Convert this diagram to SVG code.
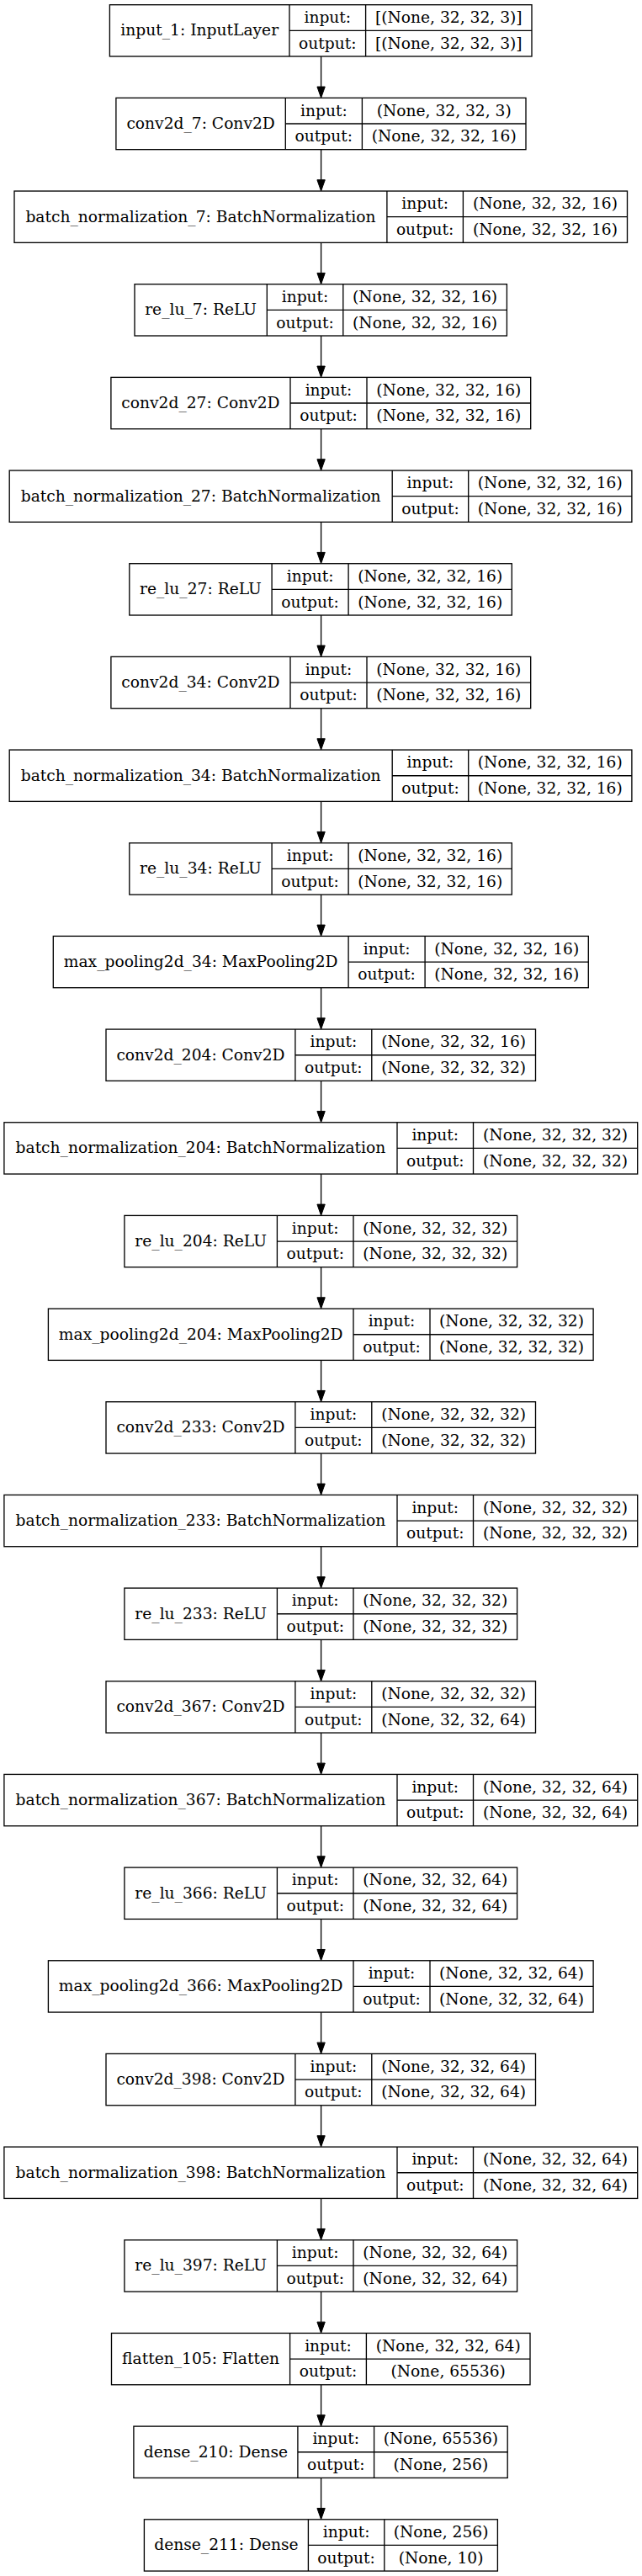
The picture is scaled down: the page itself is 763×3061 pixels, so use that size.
<svg xmlns="http://www.w3.org/2000/svg" width="763" height="3061" viewBox="0 0 763 3061">
<style>
.n rect{fill:#fff;stroke:#000;stroke-width:1.33}
.n path{fill:none;stroke:#000;stroke-width:1.33}
.n text{font-family:"DejaVu Serif","Liberation Serif",serif;font-size:18.67px;fill:#000;text-anchor:middle}
#edges path{fill:none;stroke:#000;stroke-width:1.33}
</style>
<defs>
<marker id="ah" markerUnits="userSpaceOnUse" markerWidth="14" markerHeight="10" refX="0" refY="4.67" orient="auto" viewBox="0 0 14 10" overflow="visible">
<path d="M0,0 L13.3,4.67 L0,9.34 Z" fill="#000" stroke="#000" stroke-width="1"/>
</marker>
</defs>
<rect x="0" y="0" width="763" height="3061" fill="#fff"/>
<g id="edges">
<path d="M381.6,67 V103.07" marker-end="url(#ah)"/>
<path d="M381.6,177.67 V213.74" marker-end="url(#ah)"/>
<path d="M381.6,288.34 V324.41" marker-end="url(#ah)"/>
<path d="M381.6,399.01 V435.08" marker-end="url(#ah)"/>
<path d="M381.6,509.68 V545.75" marker-end="url(#ah)"/>
<path d="M381.6,620.35 V656.42" marker-end="url(#ah)"/>
<path d="M381.6,731.02 V767.09" marker-end="url(#ah)"/>
<path d="M381.6,841.69 V877.76" marker-end="url(#ah)"/>
<path d="M381.6,952.36 V988.43" marker-end="url(#ah)"/>
<path d="M381.6,1063.03 V1099.1" marker-end="url(#ah)"/>
<path d="M381.6,1173.7 V1209.77" marker-end="url(#ah)"/>
<path d="M381.6,1284.37 V1320.44" marker-end="url(#ah)"/>
<path d="M381.6,1395.04 V1431.11" marker-end="url(#ah)"/>
<path d="M381.6,1505.71 V1541.78" marker-end="url(#ah)"/>
<path d="M381.6,1616.38 V1652.45" marker-end="url(#ah)"/>
<path d="M381.6,1727.05 V1763.12" marker-end="url(#ah)"/>
<path d="M381.6,1837.72 V1873.79" marker-end="url(#ah)"/>
<path d="M381.6,1948.39 V1984.46" marker-end="url(#ah)"/>
<path d="M381.6,2059.06 V2095.13" marker-end="url(#ah)"/>
<path d="M381.6,2169.73 V2205.8" marker-end="url(#ah)"/>
<path d="M381.6,2280.4 V2316.47" marker-end="url(#ah)"/>
<path d="M381.6,2391.07 V2427.14" marker-end="url(#ah)"/>
<path d="M381.6,2501.74 V2537.81" marker-end="url(#ah)"/>
<path d="M381.6,2612.41 V2648.48" marker-end="url(#ah)"/>
<path d="M381.6,2723.08 V2759.15" marker-end="url(#ah)"/>
<path d="M381.6,2833.75 V2869.82" marker-end="url(#ah)"/>
<path d="M381.6,2944.42 V2980.49" marker-end="url(#ah)"/>
</g>

<g id="input_1" class="n" transform="translate(0,5.7)">
<rect x="130.4" y="0" width="501.6" height="61.3"/>
<path d="M344,0V61.3M434.6,0V61.3M344,30.65H632"/>
<text x="237.2" y="36.6">input_1: InputLayer</text>
<text x="389.3" y="21.3">input:</text><text x="389.3" y="52">output:</text>
<text x="533.3" y="21.3">[(None, 32, 32, 3)]</text><text x="533.3" y="52">[(None, 32, 32, 3)]</text>
</g>

<g id="conv2d_7" class="n" transform="translate(0,116.37)">
<rect x="137.9" y="0" width="487.1" height="61.3"/>
<path d="M339.3,0V61.3M430.4,0V61.3M339.3,30.65H625"/>
<text x="238.6" y="36.6">conv2d_7: Conv2D</text>
<text x="384.85" y="21.3">input:</text><text x="384.85" y="52">output:</text>
<text x="527.7" y="21.3">(None, 32, 32, 3)</text><text x="527.7" y="52">(None, 32, 32, 16)</text>
</g>

<g id="batch_normalization_7" class="n" transform="translate(0,227.04)">
<rect x="17" y="0" width="728.5" height="61.3"/>
<path d="M459.9,0V61.3M550.4,0V61.3M459.9,30.65H745.5"/>
<text x="238.45" y="36.6">batch_normalization_7: BatchNormalization</text>
<text x="505.15" y="21.3">input:</text><text x="505.15" y="52">output:</text>
<text x="647.95" y="21.3">(None, 32, 32, 16)</text><text x="647.95" y="52">(None, 32, 32, 16)</text>
</g>

<g id="re_lu_7" class="n" transform="translate(0,337.71)">
<rect x="160" y="0" width="442.4" height="61.3"/>
<path d="M317.3,0V61.3M407.8,0V61.3M317.3,30.65H602.4"/>
<text x="238.65" y="36.6">re_lu_7: ReLU</text>
<text x="362.55" y="21.3">input:</text><text x="362.55" y="52">output:</text>
<text x="505.1" y="21.3">(None, 32, 32, 16)</text><text x="505.1" y="52">(None, 32, 32, 16)</text>
</g>

<g id="conv2d_27" class="n" transform="translate(0,448.38)">
<rect x="131.9" y="0" width="498.8" height="61.3"/>
<path d="M345,0V61.3M436,0V61.3M345,30.65H630.7"/>
<text x="238.45" y="36.6">conv2d_27: Conv2D</text>
<text x="390.5" y="21.3">input:</text><text x="390.5" y="52">output:</text>
<text x="533.35" y="21.3">(None, 32, 32, 16)</text><text x="533.35" y="52">(None, 32, 32, 16)</text>
</g>

<g id="batch_normalization_27" class="n" transform="translate(0,559.05)">
<rect x="11.2" y="0" width="739.7" height="61.3"/>
<path d="M466.2,0V61.3M556.7,0V61.3M466.2,30.65H750.9"/>
<text x="238.7" y="36.6">batch_normalization_27: BatchNormalization</text>
<text x="511.45" y="21.3">input:</text><text x="511.45" y="52">output:</text>
<text x="653.8" y="21.3">(None, 32, 32, 16)</text><text x="653.8" y="52">(None, 32, 32, 16)</text>
</g>

<g id="re_lu_27" class="n" transform="translate(0,669.72)">
<rect x="153.8" y="0" width="454.5" height="61.3"/>
<path d="M323.1,0V61.3M414.1,0V61.3M323.1,30.65H608.3"/>
<text x="238.45" y="36.6">re_lu_27: ReLU</text>
<text x="368.6" y="21.3">input:</text><text x="368.6" y="52">output:</text>
<text x="511.2" y="21.3">(None, 32, 32, 16)</text><text x="511.2" y="52">(None, 32, 32, 16)</text>
</g>

<g id="conv2d_34" class="n" transform="translate(0,780.39)">
<rect x="131.9" y="0" width="498.8" height="61.3"/>
<path d="M345,0V61.3M436,0V61.3M345,30.65H630.7"/>
<text x="238.45" y="36.6">conv2d_34: Conv2D</text>
<text x="390.5" y="21.3">input:</text><text x="390.5" y="52">output:</text>
<text x="533.35" y="21.3">(None, 32, 32, 16)</text><text x="533.35" y="52">(None, 32, 32, 16)</text>
</g>

<g id="batch_normalization_34" class="n" transform="translate(0,891.06)">
<rect x="11.2" y="0" width="739.7" height="61.3"/>
<path d="M466.2,0V61.3M556.7,0V61.3M466.2,30.65H750.9"/>
<text x="238.7" y="36.6">batch_normalization_34: BatchNormalization</text>
<text x="511.45" y="21.3">input:</text><text x="511.45" y="52">output:</text>
<text x="653.8" y="21.3">(None, 32, 32, 16)</text><text x="653.8" y="52">(None, 32, 32, 16)</text>
</g>

<g id="re_lu_34" class="n" transform="translate(0,1001.73)">
<rect x="153.8" y="0" width="454.5" height="61.3"/>
<path d="M323.1,0V61.3M414.1,0V61.3M323.1,30.65H608.3"/>
<text x="238.45" y="36.6">re_lu_34: ReLU</text>
<text x="368.6" y="21.3">input:</text><text x="368.6" y="52">output:</text>
<text x="511.2" y="21.3">(None, 32, 32, 16)</text><text x="511.2" y="52">(None, 32, 32, 16)</text>
</g>

<g id="max_pooling2d_34" class="n" transform="translate(0,1112.4)">
<rect x="63.3" y="0" width="636" height="61.3"/>
<path d="M414.1,0V61.3M505.1,0V61.3M414.1,30.65H699.3"/>
<text x="238.7" y="36.6">max_pooling2d_34: MaxPooling2D</text>
<text x="459.6" y="21.3">input:</text><text x="459.6" y="52">output:</text>
<text x="602.2" y="21.3">(None, 32, 32, 16)</text><text x="602.2" y="52">(None, 32, 32, 16)</text>
</g>

<g id="conv2d_204" class="n" transform="translate(0,1223.07)">
<rect x="126" y="0" width="510.5" height="61.3"/>
<path d="M350.9,0V61.3M441.8,0V61.3M350.9,30.65H636.5"/>
<text x="238.45" y="36.6">conv2d_204: Conv2D</text>
<text x="396.35" y="21.3">input:</text><text x="396.35" y="52">output:</text>
<text x="539.15" y="21.3">(None, 32, 32, 16)</text><text x="539.15" y="52">(None, 32, 32, 32)</text>
</g>

<g id="batch_normalization_204" class="n" transform="translate(0,1333.74)">
<rect x="4.9" y="0" width="752.8" height="61.3"/>
<path d="M472,0V61.3M562.5,0V61.3M472,30.65H757.7"/>
<text x="238.45" y="36.6">batch_normalization_204: BatchNormalization</text>
<text x="517.25" y="21.3">input:</text><text x="517.25" y="52">output:</text>
<text x="660.1" y="21.3">(None, 32, 32, 32)</text><text x="660.1" y="52">(None, 32, 32, 32)</text>
</g>

<g id="re_lu_204" class="n" transform="translate(0,1444.41)">
<rect x="147.9" y="0" width="466.7" height="61.3"/>
<path d="M329.4,0V61.3M420,0V61.3M329.4,30.65H614.6"/>
<text x="238.65" y="36.6">re_lu_204: ReLU</text>
<text x="374.7" y="21.3">input:</text><text x="374.7" y="52">output:</text>
<text x="517.3" y="21.3">(None, 32, 32, 32)</text><text x="517.3" y="52">(None, 32, 32, 32)</text>
</g>

<g id="max_pooling2d_204" class="n" transform="translate(0,1555.08)">
<rect x="57.4" y="0" width="647.7" height="61.3"/>
<path d="M420,0V61.3M511,0V61.3M420,30.65H705.1"/>
<text x="238.7" y="36.6">max_pooling2d_204: MaxPooling2D</text>
<text x="465.5" y="21.3">input:</text><text x="465.5" y="52">output:</text>
<text x="608.05" y="21.3">(None, 32, 32, 32)</text><text x="608.05" y="52">(None, 32, 32, 32)</text>
</g>

<g id="conv2d_233" class="n" transform="translate(0,1665.75)">
<rect x="126" y="0" width="510.5" height="61.3"/>
<path d="M350.9,0V61.3M441.8,0V61.3M350.9,30.65H636.5"/>
<text x="238.45" y="36.6">conv2d_233: Conv2D</text>
<text x="396.35" y="21.3">input:</text><text x="396.35" y="52">output:</text>
<text x="539.15" y="21.3">(None, 32, 32, 32)</text><text x="539.15" y="52">(None, 32, 32, 32)</text>
</g>

<g id="batch_normalization_233" class="n" transform="translate(0,1776.42)">
<rect x="4.9" y="0" width="752.8" height="61.3"/>
<path d="M472,0V61.3M562.5,0V61.3M472,30.65H757.7"/>
<text x="238.45" y="36.6">batch_normalization_233: BatchNormalization</text>
<text x="517.25" y="21.3">input:</text><text x="517.25" y="52">output:</text>
<text x="660.1" y="21.3">(None, 32, 32, 32)</text><text x="660.1" y="52">(None, 32, 32, 32)</text>
</g>

<g id="re_lu_233" class="n" transform="translate(0,1887.09)">
<rect x="147.9" y="0" width="466.7" height="61.3"/>
<path d="M329.4,0V61.3M420,0V61.3M329.4,30.65H614.6"/>
<text x="238.65" y="36.6">re_lu_233: ReLU</text>
<text x="374.7" y="21.3">input:</text><text x="374.7" y="52">output:</text>
<text x="517.3" y="21.3">(None, 32, 32, 32)</text><text x="517.3" y="52">(None, 32, 32, 32)</text>
</g>

<g id="conv2d_367" class="n" transform="translate(0,1997.76)">
<rect x="126" y="0" width="510.5" height="61.3"/>
<path d="M350.9,0V61.3M441.8,0V61.3M350.9,30.65H636.5"/>
<text x="238.45" y="36.6">conv2d_367: Conv2D</text>
<text x="396.35" y="21.3">input:</text><text x="396.35" y="52">output:</text>
<text x="539.15" y="21.3">(None, 32, 32, 32)</text><text x="539.15" y="52">(None, 32, 32, 64)</text>
</g>

<g id="batch_normalization_367" class="n" transform="translate(0,2108.43)">
<rect x="4.9" y="0" width="752.8" height="61.3"/>
<path d="M472,0V61.3M562.5,0V61.3M472,30.65H757.7"/>
<text x="238.45" y="36.6">batch_normalization_367: BatchNormalization</text>
<text x="517.25" y="21.3">input:</text><text x="517.25" y="52">output:</text>
<text x="660.1" y="21.3">(None, 32, 32, 64)</text><text x="660.1" y="52">(None, 32, 32, 64)</text>
</g>

<g id="re_lu_366" class="n" transform="translate(0,2219.1)">
<rect x="147.9" y="0" width="466.7" height="61.3"/>
<path d="M329.4,0V61.3M420,0V61.3M329.4,30.65H614.6"/>
<text x="238.65" y="36.6">re_lu_366: ReLU</text>
<text x="374.7" y="21.3">input:</text><text x="374.7" y="52">output:</text>
<text x="517.3" y="21.3">(None, 32, 32, 64)</text><text x="517.3" y="52">(None, 32, 32, 64)</text>
</g>

<g id="max_pooling2d_366" class="n" transform="translate(0,2329.77)">
<rect x="57.4" y="0" width="647.7" height="61.3"/>
<path d="M420,0V61.3M511,0V61.3M420,30.65H705.1"/>
<text x="238.7" y="36.6">max_pooling2d_366: MaxPooling2D</text>
<text x="465.5" y="21.3">input:</text><text x="465.5" y="52">output:</text>
<text x="608.05" y="21.3">(None, 32, 32, 64)</text><text x="608.05" y="52">(None, 32, 32, 64)</text>
</g>

<g id="conv2d_398" class="n" transform="translate(0,2440.44)">
<rect x="126" y="0" width="510.5" height="61.3"/>
<path d="M350.9,0V61.3M441.8,0V61.3M350.9,30.65H636.5"/>
<text x="238.45" y="36.6">conv2d_398: Conv2D</text>
<text x="396.35" y="21.3">input:</text><text x="396.35" y="52">output:</text>
<text x="539.15" y="21.3">(None, 32, 32, 64)</text><text x="539.15" y="52">(None, 32, 32, 64)</text>
</g>

<g id="batch_normalization_398" class="n" transform="translate(0,2551.11)">
<rect x="4.9" y="0" width="752.8" height="61.3"/>
<path d="M472,0V61.3M562.5,0V61.3M472,30.65H757.7"/>
<text x="238.45" y="36.6">batch_normalization_398: BatchNormalization</text>
<text x="517.25" y="21.3">input:</text><text x="517.25" y="52">output:</text>
<text x="660.1" y="21.3">(None, 32, 32, 64)</text><text x="660.1" y="52">(None, 32, 32, 64)</text>
</g>

<g id="re_lu_397" class="n" transform="translate(0,2661.78)">
<rect x="147.9" y="0" width="466.7" height="61.3"/>
<path d="M329.4,0V61.3M420,0V61.3M329.4,30.65H614.6"/>
<text x="238.65" y="36.6">re_lu_397: ReLU</text>
<text x="374.7" y="21.3">input:</text><text x="374.7" y="52">output:</text>
<text x="517.3" y="21.3">(None, 32, 32, 64)</text><text x="517.3" y="52">(None, 32, 32, 64)</text>
</g>

<g id="flatten_105" class="n" transform="translate(0,2772.45)">
<rect x="132.5" y="0" width="497.5" height="61.3"/>
<path d="M344.6,0V61.3M435.4,0V61.3M344.6,30.65H630"/>
<text x="238.55" y="36.6">flatten_105: Flatten</text>
<text x="390" y="21.3">input:</text><text x="390" y="52">output:</text>
<text x="532.7" y="21.3">(None, 32, 32, 64)</text><text x="532.7" y="52">(None, 65536)</text>
</g>

<g id="dense_210" class="n" transform="translate(0,2883.12)">
<rect x="158.9" y="0" width="444.3" height="61.3"/>
<path d="M353.9,0V61.3M444.6,0V61.3M353.9,30.65H603.2"/>
<text x="256.4" y="36.6">dense_210: Dense</text>
<text x="399.25" y="21.3">input:</text><text x="399.25" y="52">output:</text>
<text x="523.9" y="21.3">(None, 65536)</text><text x="523.9" y="52">(None, 256)</text>
</g>

<g id="dense_211" class="n" transform="translate(0,2993.79)">
<rect x="171.4" y="0" width="420" height="61.3"/>
<path d="M366.4,0V61.3M456.8,0V61.3M366.4,30.65H591.4"/>
<text x="268.9" y="36.6">dense_211: Dense</text>
<text x="411.6" y="21.3">input:</text><text x="411.6" y="52">output:</text>
<text x="524.1" y="21.3">(None, 256)</text><text x="524.1" y="52">(None, 10)</text>
</g>
</svg>
